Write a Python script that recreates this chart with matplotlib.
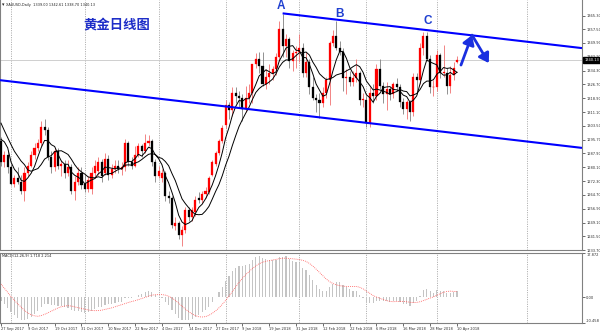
import matplotlib
matplotlib.use('Agg')
import matplotlib.pyplot as plt
import matplotlib.transforms as mtransforms
import numpy as np

plt.rcParams['font.family'] = ['DejaVu Sans']

# ---------------- data ----------------
# closes before the first visible bar (used only to warm up the MAs / MACD)
prior_closes = [1260, 1268, 1269, 1270, 1268, 1268, 1258, 1258, 1261, 1275, 1288, 1289,
                1281, 1272, 1283, 1289, 1284, 1291, 1284, 1288, 1286, 1291, 1315, 1310,
                1308, 1321, 1325, 1334, 1339, 1334, 1350, 1346, 1329, 1331, 1323, 1329,
                1320, 1310, 1311, 1300, 1294, 1297, 1311, 1294]

opens = [1295, 1283, 1287, 1280, 1271, 1274, 1272, 1267, 1277, 1281, 1287, 1291, 1294, 1303,
         1301, 1286, 1280, 1289, 1281, 1282, 1277, 1280, 1267, 1272, 1277, 1271, 1268, 1268,
         1277, 1278, 1283, 1277, 1285, 1276, 1279, 1281, 1279, 1280, 1294, 1283, 1281, 1287,
         1292, 1289, 1294, 1295, 1283, 1275, 1274, 1277, 1264, 1263, 1247, 1249, 1242, 1245,
         1256, 1252, 1255, 1263, 1262, 1265, 1266, 1276, 1282, 1288, 1295, 1304, 1315, 1312,
         1322, 1320, 1319, 1313, 1319, 1322, 1338, 1341, 1337, 1327, 1331, 1333, 1335, 1342,
         1358, 1348, 1352, 1340, 1344, 1345, 1347, 1333, 1339, 1325, 1319, 1318, 1316, 1322,
         1329, 1350, 1354, 1347, 1345, 1330, 1331, 1328, 1330, 1333, 1318, 1318, 1305, 1322,
         1320, 1335, 1326, 1321, 1324, 1321, 1327, 1325, 1317, 1313, 1317, 1311, 1331, 1329,
         1347, 1354, 1341, 1325, 1325, 1343, 1333, 1333, 1326, 1332, 1339.00]
highs = [1297, 1289, 1290, 1282, 1276, 1280, 1276, 1280, 1283, 1289, 1294, 1296, 1306, 1307,
         1303, 1289, 1291, 1291, 1284, 1284, 1284, 1282, 1275, 1280, 1280, 1276, 1275, 1280,
         1284, 1286, 1285, 1288, 1287, 1282, 1284, 1284, 1283, 1296, 1295, 1286, 1292, 1294,
         1293, 1299, 1298, 1296, 1285, 1281, 1279, 1278, 1267, 1264, 1252, 1250, 1247, 1258,
         1258, 1258, 1264, 1266, 1267, 1269, 1275, 1284, 1289, 1296, 1304, 1318, 1317, 1325,
         1325, 1323, 1321, 1326, 1327, 1338, 1344, 1345, 1345, 1335, 1338, 1337, 1344, 1362,
         1366, 1355, 1353, 1346, 1348, 1355, 1350, 1345, 1341, 1331, 1321, 1322, 1325, 1331,
         1351, 1357, 1362, 1351, 1347, 1335, 1334, 1334, 1341, 1334, 1322, 1320, 1325, 1327,
         1338, 1341, 1328, 1328, 1325, 1328, 1330, 1327, 1319, 1318, 1318, 1333, 1333, 1350,
         1356, 1356, 1343, 1329, 1346, 1344, 1349, 1336, 1337, 1339, 1342.61]
lows = [1281, 1280, 1277, 1270, 1269, 1271, 1265, 1261, 1275, 1280, 1285, 1289, 1292, 1298,
        1284, 1277, 1278, 1279, 1275, 1274, 1275, 1265, 1262, 1270, 1268, 1266, 1266, 1265,
        1274, 1276, 1272, 1276, 1273, 1274, 1277, 1277, 1276, 1278, 1281, 1279, 1280, 1286,
        1286, 1288, 1292, 1281, 1272, 1274, 1272, 1261, 1260, 1246, 1245, 1240, 1236, 1243,
        1250, 1250, 1253, 1260, 1260, 1263, 1265, 1275, 1281, 1287, 1294, 1302, 1307, 1309,
        1316, 1314, 1306, 1311, 1316, 1316, 1336, 1333, 1326, 1324, 1327, 1329, 1332, 1340,
        1342, 1342, 1336, 1334, 1336, 1339, 1331, 1331, 1321, 1318, 1311, 1308, 1314, 1319,
        1315, 1348, 1346, 1343, 1323, 1321, 1326, 1326, 1328, 1315, 1314, 1303, 1303, 1316,
        1318, 1324, 1316, 1312, 1318, 1319, 1323, 1314, 1310, 1307, 1306, 1309, 1321, 1327,
        1343, 1340, 1322, 1320, 1323, 1330, 1331, 1321, 1322, 1329, 1338.70]
closes = [1283, 1287, 1280, 1271, 1274, 1272, 1267, 1277, 1281, 1287, 1291, 1294, 1303, 1301,
          1286, 1280, 1289, 1281, 1282, 1277, 1280, 1267, 1272, 1277, 1270, 1268, 1273, 1277,
          1281, 1283, 1275, 1285, 1276, 1279, 1281, 1279, 1280, 1294, 1283, 1281, 1287, 1292,
          1289, 1294, 1295, 1283, 1275, 1278, 1277, 1264, 1263, 1248, 1249, 1242, 1245, 1256,
          1252, 1256, 1262, 1262, 1265, 1267, 1274, 1283, 1288, 1295, 1302, 1315, 1312, 1322,
          1320, 1319, 1313, 1319, 1322, 1338, 1341, 1337, 1327, 1331, 1333, 1335, 1342, 1358,
          1348, 1352, 1340, 1344, 1345, 1347, 1333, 1339, 1325, 1319, 1318, 1316, 1322, 1329,
          1350, 1354, 1347, 1345, 1330, 1331, 1328, 1330, 1333, 1318, 1318, 1305, 1322, 1320,
          1335, 1326, 1321, 1324, 1321, 1327, 1325, 1317, 1313, 1317, 1311, 1331, 1329, 1347,
          1354, 1341, 1325, 1325, 1343, 1333, 1333, 1326, 1332, 1336, 1340.13]

date_labels = ["27 Sep 2017", "9 Oct 2017", "19 Oct 2017", "31 Oct 2017", "10 Nov 2017",
               "22 Nov 2017", "4 Dec 2017", "14 Dec 2017", "27 Dec 2017", "9 Jan 2018",
               "19 Jan 2018", "31 Jan 2018", "12 Feb 2018", "22 Feb 2018", "6 Mar 2018",
               "16 Mar 2018", "28 Mar 2018", "10 Apr 2018"]
date_label_bars = [0, 8, 16, 24, 32, 40, 48, 56, 64, 72, 80, 88, 96, 104, 112, 120, 128, 136]
month_grid_bars = [3, 25, 47, 67, 89, 109, 130, 157]

price_ticks = [1233.70, 1241.50, 1249.10, 1256.90, 1264.70, 1272.30, 1280.10, 1287.90,
               1295.70, 1303.50, 1311.10, 1318.90, 1326.70, 1334.30, 1342.10, 1349.90,
               1357.50, 1365.30]
macd_ticks = [17.872, 0.0, -10.458]
macd_tick_labels = ["17.872", "0.00", "-10.458"]

# hand-drawn objects on the chart (bar index, price)
upper_channel = [(84.0, 1366.5), (173.3, 1347.0)]
lower_channel = [(-0.3, 1329.0), (173.3, 1291.0)]
arrow_path = [(137.2, 1337.5), (140.5, 1354.3), (145.5, 1338.6)]
peak_labels = [("A", 83.5, 1370.6), ("B", 101.1, 1366.1), ("C", 127.3, 1362.2)]

last_price = closes[-1]
header = "XAUUSD,Daily  1339.00 1342.61 1338.70 1340.13"
title_cn = "黄金日线图"
macd_label = "MACD(12,26,9) 1.718 2.214"

# ---------------- indicators ----------------
all_c = np.array(prior_closes + closes, dtype=float)
npre = len(prior_closes)
n = len(closes)
x = np.arange(n)

def sma(a, p):
    out = np.full(len(a), np.nan)
    for i in range(p - 1, len(a)):
        out[i] = a[i - p + 1:i + 1].mean()
    return out

def ema(a, p):
    k = 2.0 / (p + 1)
    out = np.empty(len(a))
    out[0] = a[0]
    for i in range(1, len(a)):
        out[i] = a[i] * k + out[i - 1] * (1 - k)
    return out

ma5 = sma(all_c, 5)[npre:]
ma10 = sma(all_c, 10)[npre:]
macd_main = ema(all_c, 12) - ema(all_c, 26)
macd_sig = sma(macd_main, 9)
macd_main = macd_main[npre:]
macd_sig = macd_sig[npre:]

# ---------------- figure ----------------
W, H = 600, 334
fig = plt.figure(figsize=(W / 100, H / 100), dpi=100)
fig.patch.set_facecolor('white')
ax = fig.add_axes([0, (H - 250) / H, 582 / W, 250 / H])
ax2 = fig.add_axes([0, (H - 323) / H, 582 / W, 70 / H])

XL = (-0.3, 173.3)
for a in (ax, ax2):
    a.set_xlim(*XL)
    a.set_facecolor('white')
    for s in a.spines.values():
        s.set_color('#808080')
        s.set_linewidth(0.8)
    for b in month_grid_bars:
        a.axvline(b, color='#9a9a9a', lw=0.6, ls=(0, (1.2, 1.6)), zorder=0)

ax.set_ylim(1233.7, 1374.0)
ax.spines['top'].set_visible(False)

# price line
ax.axhline(last_price, color='#c8c8c8', lw=0.6, zorder=0.5)

# candles
o = np.array(opens); h = np.array(highs); l = np.array(lows); c = np.array(closes)
up = c >= o
for i in range(n):
    col = '#ff0000' if up[i] else '#000000'
    wcol = '#f07070' if up[i] else '#808080'
    ax.vlines(x[i], l[i], h[i], color=wcol, lw=0.6, zorder=2)
    body = max(abs(c[i] - o[i]), 0.35)
    ax.bar(x[i], body, bottom=min(o[i], c[i]), width=0.62, color=col,
           edgecolor=col, linewidth=0.2, zorder=3)

# moving averages
ax.plot(x, ma5, color='#000000', lw=0.7, zorder=4)
ax.plot(x, ma10, color='#000000', lw=0.7, zorder=4)

# channel lines
for ln in (upper_channel, lower_channel):
    ax.plot([p[0] for p in ln], [p[1] for p in ln], color='#0000ff', lw=1.5,
            zorder=5, solid_capstyle='butt')

# zig-zag arrows
for k in range(len(arrow_path) - 1):
    ax.annotate('', xy=arrow_path[k + 1], xytext=arrow_path[k],
                arrowprops=dict(arrowstyle='-|>,head_length=0.55,head_width=0.35',
                                color='#1a2fe0', lw=2.0, shrinkA=0, shrinkB=0,
                                mutation_scale=10), zorder=6)

# labels A B C
for t, bx, by in peak_labels:
    ax.text(bx, by, t, color='#1f3fd0', fontsize=8.5, fontweight='bold',
            family=['Liberation Sans', 'DejaVu Sans'], ha='center', va='center', zorder=7)

# Chinese title
ax.text(83 / 582, 1 - 24 / 250, title_cn, transform=ax.transAxes, color='#1e2ec8',
        fontsize=9.6, fontweight='bold', family=['Noto Sans CJK SC', 'DejaVu Sans'],
        ha='left', va='center', zorder=7)

# header text
ax.text(2 / 582, 1 - 5 / 250, '\u25BE', transform=ax.transAxes, fontsize=3.5,
        ha='left', va='center', color='#202020')
ax.text(6 / 582, 1 - 5 / 250, header, transform=ax.transAxes, fontsize=2.5,
        ha='left', va='center', color='#202020')

# right axis
ax.yaxis.tick_right()
ax.set_yticks(price_ticks)
ax.set_yticklabels(['%.2f' % v for v in price_ticks])
ax.tick_params(axis='y', labelsize=2.6, length=2, width=0.5, pad=1, colors='#303030')
ax.set_xticks([])

# current price tag
trans = mtransforms.blended_transform_factory(ax.transAxes, ax.transData)
ax.text(1.004, last_price, '%.2f' % last_price, transform=trans, fontsize=2.6,
        color='white', ha='left', va='center',
        bbox=dict(boxstyle='square,pad=0.25', fc='black', ec='black'), clip_on=False)

# ---------------- MACD panel ----------------
ax2.set_ylim(-10.458, 17.872)
ax2.bar(x, macd_main, width=0.35, color='#c4c4c4', zorder=1)
ax2.plot(x, macd_sig, color='#ff5555', lw=0.6, ls=(0, (1, 1.3)), zorder=2)
ax2.yaxis.tick_right()
ax2.set_yticks(macd_ticks)
ax2.set_yticklabels(macd_tick_labels)
ax2.tick_params(axis='y', labelsize=2.6, length=2, width=0.5, pad=1, colors='#303030')
for lab, v in zip(ax2.get_yticklabels(), macd_ticks):
    if v > 0:
        lab.set_va('top')
    elif v < 0:
        lab.set_va('bottom')
ax2.set_xticks(date_label_bars)
ax2.set_xticklabels(date_labels)
ax2.tick_params(axis='x', labelsize=2.6, length=2, width=0.5, pad=1, colors='#303030')
for lab in ax2.get_xticklabels():
    lab.set_ha('left')
ax2.text(2 / 582, 1 - 3 / 70, macd_label, transform=ax2.transAxes, fontsize=2.5,
         ha='left', va='center', color='#202020')

fig.savefig('out.png', dpi=100, facecolor='white')
